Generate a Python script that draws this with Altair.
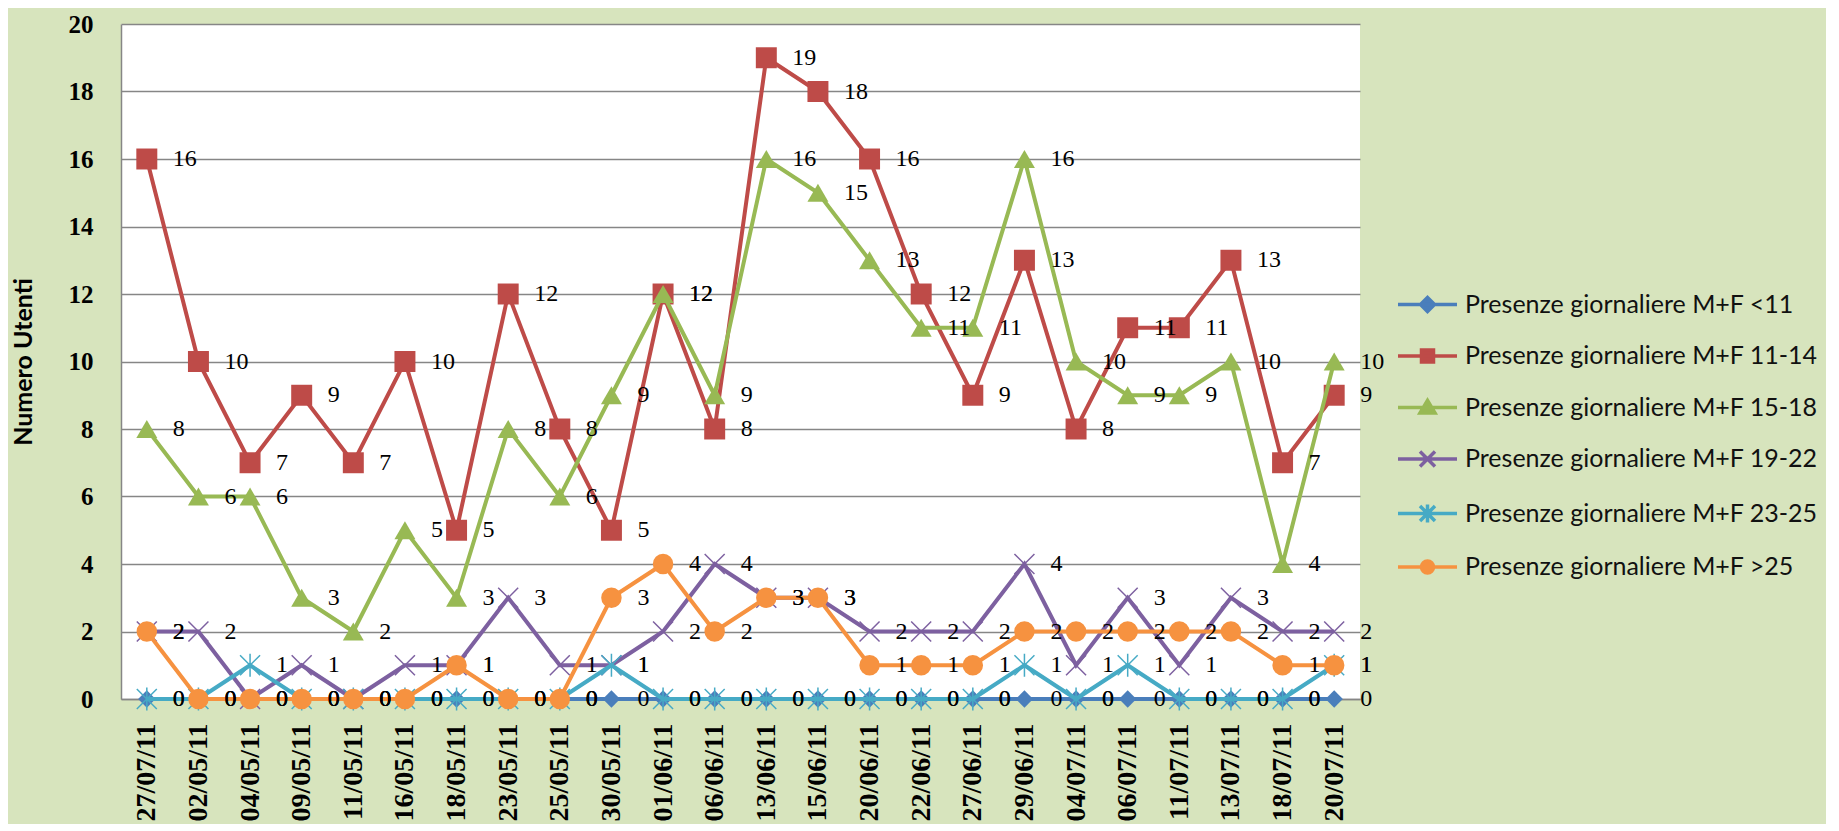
import altair as alt
import pandas as pd

dates = ["27/07/11", "02/05/11", "04/05/11", "09/05/11", "11/05/11", "16/05/11",
         "18/05/11", "23/05/11", "25/05/11", "30/05/11", "01/06/11", "06/06/11",
         "13/06/11", "15/06/11", "20/06/11", "22/06/11", "27/06/11", "29/06/11",
         "04/07/11", "06/07/11", "11/07/11", "13/07/11", "18/07/11", "20/07/11"]

series_names = ["Presenze giornaliere M+F <11",
                "Presenze giornaliere M+F 11-14",
                "Presenze giornaliere M+F 15-18",
                "Presenze giornaliere M+F 19-22",
                "Presenze giornaliere M+F 23-25",
                "Presenze giornaliere M+F >25"]

v_lt11 = [0, 0, 0, 0, 0, 0, 0, 0, 0, 0, 0, 0, 0, 0, 0, 0, 0, 0, 0, 0, 0, 0, 0, 0]
v_11_14 = [16, 10, 7, 9, 7, 10, 5, 12, 8, 5, 12, 8, 19, 18, 16, 12, 9, 13, 8, 11, 11, 13, 7, 9]
v_15_18 = [8, 6, 6, 3, 2, 5, 3, 8, 6, 9, 12, 9, 16, 15, 13, 11, 11, 16, 10, 9, 9, 10, 4, 10]
v_19_22 = [2, 2, 0, 1, 0, 1, 1, 3, 1, 1, 2, 4, 3, 3, 2, 2, 2, 4, 1, 3, 1, 3, 2, 2]
v_23_25 = [0, 0, 1, 0, 0, 0, 0, 0, 0, 1, 0, 0, 0, 0, 0, 0, 0, 1, 0, 1, 0, 0, 0, 1]
v_gt25 = [2, 0, 0, 0, 0, 0, 1, 0, 0, 3, 4, 2, 3, 3, 1, 1, 1, 2, 2, 2, 2, 2, 1, 1]

all_values = [v_lt11, v_11_14, v_15_18, v_19_22, v_23_25, v_gt25]

colors = ["#4A7EBB", "#BE4B48", "#98B954", "#7D60A0", "#46AAC5", "#F69240"]

X_PATH = "M-1,-1L1,1M-1,1L1,-1"
AST_PATH = "M-1,-1L1,1M-1,1L1,-1M0,-1.15L0,1.15"
marker_styles = [
    dict(shape="diamond", filled=True, size=300, strokeWidth=0),
    dict(shape="square", filled=True, size=440, strokeWidth=0),
    dict(shape="triangle-up", filled=True, size=440, strokeWidth=0),
    dict(shape=X_PATH, filled=False, size=400, strokeWidth=1.5),
    dict(shape=AST_PATH, filled=False, size=400, strokeWidth=1.5),
    dict(shape="circle", filled=True, size=420, strokeWidth=0),
]

LINE = "M-2.95,0L2.95,0"
legend_shapes = [
    LINE + "M0,-0.7L0.7,0L0,0.7L-0.7,0Z",
    LINE + "M-0.6,-0.6L0.6,-0.6L0.6,0.6L-0.6,0.6Z",
    LINE + "M0,-0.7L0.75,0.55L-0.75,0.55Z",
    LINE + "M-0.75,-0.75L0.75,0.75M-0.75,0.75L0.75,-0.75",
    LINE + "M-0.75,-0.75L0.75,0.75M-0.75,0.75L0.75,-0.75M0,-0.9L0,0.9",
    LINE + "M-0.6,0A0.6,0.6,0,1,0,0.6,0A0.6,0.6,0,1,0,-0.6,0Z",
]

rows = []
for s_idx, (name, vals) in enumerate(zip(series_names, all_values)):
    for d_idx, (d, v) in enumerate(zip(dates, vals)):
        rows.append({"date": d, "series": name, "value": v, "s": s_idx, "d": d_idx})
df = pd.DataFrame(rows)

GRID = "#868686"

x_enc = alt.X(
    "date:N", sort=dates, title=None,
    scale=alt.Scale(type="point", padding=0.5),
    axis=alt.Axis(labelAngle=-90, labelFont="Liberation Serif", labelFontSize=28,
                  labelFontWeight="bold", labelColor="black", labelPadding=24,
                  tickSize=0, domainColor=GRID, domainWidth=1.5, grid=False,
                  labelOverlap=False),
)
y_enc = alt.Y(
    "value:Q", title="Numero Utenti",
    scale=alt.Scale(domain=[0, 20], nice=False),
    axis=alt.Axis(values=[0, 2, 4, 6, 8, 10, 12, 14, 16, 18, 20], format="d",
                  grid=True, gridColor=GRID, gridWidth=1.5,
                  domainColor=GRID, domainWidth=1.5, tickSize=0,
                  labelFont="Liberation Serif", labelFontSize=25,
                  labelFontWeight="bold", labelColor="black", labelPadding=28,
                  titleFont="Lato", titleFontSize=25, titleFontWeight="bold",
                  titleColor="black", titlePadding=29,
                  minExtent=56, maxExtent=56),
)

base = alt.Chart(df)
layers = []
for name, col, ms in zip(series_names, colors, marker_styles):
    sub = base.transform_filter(alt.datum.series == name)
    layers.append(sub.mark_line(color=col, strokeWidth=4).encode(x=x_enc, y=y_enc))
    layers.append(
        sub.mark_point(shape=ms["shape"], filled=ms["filled"], size=ms["size"],
                       color=col, opacity=1, strokeWidth=ms["strokeWidth"])
        .encode(x=x_enc, y=y_enc)
    )

labels = base.mark_text(align="left", baseline="middle", dx=26,
                        font="Liberation Serif", fontSize=24, color="black").encode(
    x=x_enc, y=y_enc, text=alt.Text("value:Q", format="d"))
layers.append(labels)

leg = alt.Legend(title=None, orient="none", legendX=1294, legendY=268,
                 labelFont="Lato", labelFontSize=25, labelColor="#111111",
                 labelLimit=0, labelOffset=25, rowPadding=23.5,
                 symbolSize=400, symbolStrokeWidth=3.5, padding=0)

legend_layer = base.transform_filter("datum.value < 0").mark_point(
    filled=True, size=400, opacity=1, strokeWidth=3.5).encode(
    x=x_enc, y=y_enc,
    color=alt.Color("series:N", scale=alt.Scale(domain=series_names, range=colors), legend=leg),
    stroke=alt.Stroke("series:N", scale=alt.Scale(domain=series_names, range=colors), legend=leg),
    shape=alt.Shape("series:N", scale=alt.Scale(domain=series_names, range=legend_shapes), legend=leg),
)
layers.append(legend_layer)

chart = alt.layer(*layers).properties(
    width=1239, height=675,
    padding={"left": 3, "top": 4, "right": 8, "bottom": 2},
    background="#D7E4BD",
).configure_view(fill="white", stroke=None)

chart.save("out.html", embed_options={"renderer": "svg", "actions": False})
